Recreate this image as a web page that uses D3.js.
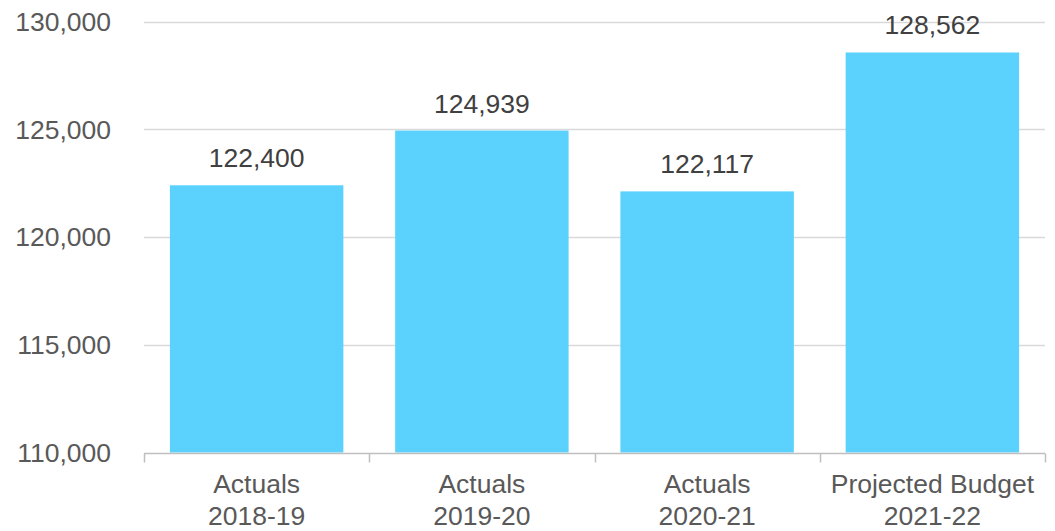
<!DOCTYPE html>
<html>
<head>
<meta charset="utf-8">
<script src="https://cdn.jsdelivr.net/npm/d3@7"></script>
<style>
  html, body { margin: 0; padding: 0; background: #fff; }
  svg { display: block; font-family: "Liberation Sans", Arial, sans-serif; }
</style>
</head>
<body>
<svg id="chart" width="1055" height="531"></svg>
<script>
// Category labels (two lines each) and annual totals
const categoryLine1 = ["Actuals", "Actuals", "Actuals", "Projected Budget"];
const categoryLine2 = ["2018-19", "2019-20", "2020-21", "2021-22"];
const totals = [122400, 124939, 122117, 128562];
const yTicks = [110000, 115000, 120000, 125000, 130000];

const svg = d3.select("#chart");
const margin = { left: 144, right: 10, top: 21.5, bottom: 78.5 };
const width = 1055, height = 531;

const x = d3.scaleBand()
  .domain(d3.range(totals.length))
  .range([margin.left, width - margin.right])
  .paddingInner(0.23)
  .paddingOuter(0.115);

const xEdges = d3.scaleLinear()
  .domain([0, totals.length])
  .range([margin.left, width - margin.right]);

const y = d3.scaleLinear()
  .domain([110000, 130000])
  .range([height - margin.bottom, margin.top]);

const fmt = d3.format(",");

// Horizontal gridlines
svg.append("g")
  .selectAll("line")
  .data(yTicks.slice(1))
  .join("line")
  .attr("x1", margin.left)
  .attr("x2", width - margin.right)
  .attr("y1", d => Math.round(y(d)) + 0.5)
  .attr("y2", d => Math.round(y(d)) + 0.5)
  .attr("stroke", "#d9d9d9")
  .attr("stroke-width", 1.5);

// Y axis labels
svg.append("g")
  .selectAll("text")
  .data(yTicks)
  .join("text")
  .attr("x", 111)
  .attr("y", d => y(d))
  .attr("dy", "0.35em")
  .attr("text-anchor", "end")
  .attr("fill", "#595959")
  .attr("font-size", 26.5)
  .text(d => fmt(d));

// Bars
svg.append("g")
  .selectAll("rect")
  .data(totals)
  .join("rect")
  .attr("x", (d, i) => x(i))
  .attr("width", x.bandwidth())
  .attr("y", d => y(d))
  .attr("height", d => y(110000) - y(d))
  .attr("fill", "#5bd2fe");

// Value labels above bars
svg.append("g")
  .selectAll("text")
  .data(totals)
  .join("text")
  .attr("x", (d, i) => x(i) + x.bandwidth() / 2)
  .attr("y", d => y(d) - 18)
  .attr("text-anchor", "middle")
  .attr("fill", "#404040")
  .attr("font-size", 26.5)
  .text(d => fmt(d));

// Category axis line and tick marks between categories
const axisY = Math.round(y(110000)) + 0.5;
const axis = svg.append("g").attr("stroke", "#bfbfbf").attr("stroke-width", 1.5);
axis.append("line")
  .attr("x1", margin.left).attr("x2", width - margin.right)
  .attr("y1", axisY).attr("y2", axisY);
axis.selectAll("line.tick")
  .data(d3.range(totals.length + 1))
  .join("line")
  .attr("class", "tick")
  .attr("x1", d => Math.round(xEdges(d)) + 0.5)
  .attr("x2", d => Math.round(xEdges(d)) + 0.5)
  .attr("y1", axisY)
  .attr("y2", axisY + 9);

// Category labels
const cat = svg.append("g")
  .selectAll("text")
  .data(d3.range(totals.length))
  .join("text")
  .attr("text-anchor", "middle")
  .attr("fill", "#595959")
  .attr("font-size", 26.5);
cat.append("tspan")
  .attr("x", i => x(i) + x.bandwidth() / 2)
  .attr("y", 493)
  .text(i => categoryLine1[i]);
cat.append("tspan")
  .attr("x", i => x(i) + x.bandwidth() / 2)
  .attr("y", 525)
  .text(i => categoryLine2[i]);
</script>
</body>
</html>
